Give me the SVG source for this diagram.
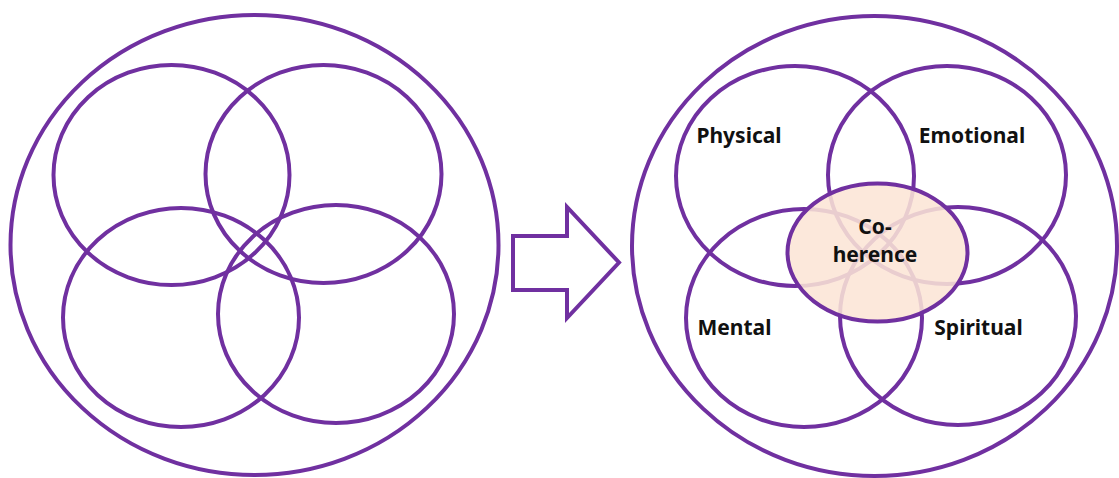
<svg xmlns="http://www.w3.org/2000/svg" width="1119" height="478" viewBox="0 0 1119 478">
<style>
.ring{fill:none;stroke:#7030A0;stroke-width:4}
.lbl{font-family:"Noto Sans","Open Sans","Liberation Sans",sans-serif;font-weight:bold;font-size:21px;fill:#111111}
.core{fill:#FBE5D6;fill-opacity:0.87;stroke:#7030A0;stroke-width:4}
</style>
<rect width="1119" height="478" fill="#ffffff"/>
<g id="left-diagram">
<ellipse id="left-outer" class="ring" cx="254.5" cy="245" rx="244" ry="230"/>
<ellipse id="left-tl" class="ring" cx="171.5" cy="175" rx="118" ry="110"/>
<ellipse id="left-tr" class="ring" cx="323.5" cy="174" rx="118" ry="109"/>
<ellipse id="left-bl" class="ring" cx="181" cy="317.5" rx="118" ry="109.5"/>
<ellipse id="left-br" class="ring" cx="336" cy="314" rx="118" ry="109"/>
</g>
<g id="connectors">
<polygon id="arrow" points="513,236 567,236 567,207 619,262.5 567,318 567,290 513,290" fill="#ffffff" stroke="#7030A0" stroke-width="4" stroke-linejoin="miter"/>
</g>
<g id="right-outer"><ellipse class="ring" cx="874.5" cy="246" rx="242.5" ry="230"/></g>
<g id="physical">
<ellipse class="ring" cx="795" cy="176" rx="119" ry="110"/>
<text class="lbl" x="739" y="143" text-anchor="middle">Physical</text>
</g>
<g id="emotional">
<ellipse class="ring" cx="947" cy="175" rx="119" ry="109"/>
<text class="lbl" x="972" y="143" text-anchor="middle">Emotional</text>
</g>
<g id="mental">
<ellipse class="ring" cx="804" cy="318" rx="118" ry="109"/>
<text class="lbl" x="734.5" y="335" text-anchor="middle">Mental</text>
</g>
<g id="spiritual">
<ellipse class="ring" cx="958" cy="316" rx="118" ry="109"/>
<text class="lbl" x="978.5" y="335" text-anchor="middle">Spiritual</text>
</g>
<g id="coherence">
<ellipse class="core" cx="877.5" cy="252.5" rx="90" ry="69"/>
<text class="lbl" x="875" y="234" text-anchor="middle">Co-</text>
<text class="lbl" x="875" y="262" text-anchor="middle">herence</text>
</g>
</svg>
